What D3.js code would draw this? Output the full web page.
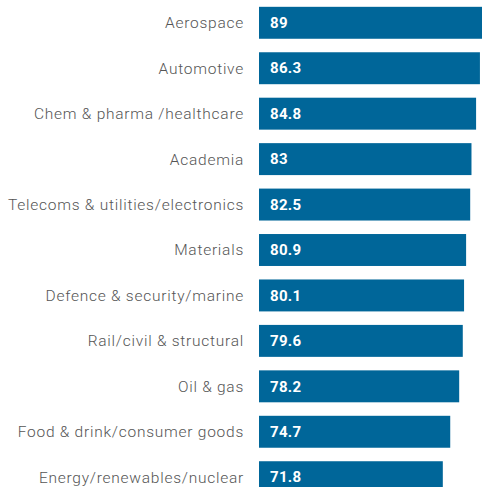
<!DOCTYPE html>
<html>
<head>
<meta charset="utf-8">
<script src="https://cdn.jsdelivr.net/npm/d3@7"></script>
<style>
  html, body { margin:0; padding:0; background:#fff; overflow:hidden; }
  svg { display:block; }
  .lbl { font-family:"Roboto", sans-serif; font-weight:300; font-size:15.5px; letter-spacing:0.75px; fill:#555; }
  .val { font-family:"Roboto", sans-serif; font-weight:700; font-size:15px; letter-spacing:0.3px; fill:#fff; }
</style>
</head>
<body>
<div id="chart"></div>
<script>
const sectors = ["Aerospace","Automotive","Chem & pharma /healthcare","Academia","Telecoms & utilities/electronics","Materials","Defence & security/marine","Rail/civil & structural","Oil & gas","Food & drink/consumer goods","Energy/renewables/nuclear"];
const scores = [89, 86.3, 84.8, 83, 82.5, 80.9, 80.1, 79.6, 78.2, 74.7, 71.8];

const W = 482, H = 487, x0 = 259;
const data = sectors.map((s,i)=>({sector:s, score:scores[i]}));

const svg = d3.select("#chart").append("svg").attr("width",W).attr("height",H);

const x = d3.scaleLinear().domain([0,100]).range([x0, x0+256]);
const y = d3.scaleBand().domain(sectors).range([0,500]).paddingInner(0.297).paddingOuter(0.15);

svg.selectAll("rect").data(data).join("rect")
  .attr("x",x(0)).attr("y",d=>y(d.sector))
  .attr("width",d=>x(d.score)-x(0)).attr("height",y.bandwidth())
  .attr("fill","#006699");

svg.selectAll("text.lbl").data(data).join("text").attr("class","lbl")
  .attr("x",x0-15).attr("y",d=>y(d.sector)+y.bandwidth()/2).attr("dy","0.35em")
  .attr("text-anchor","end").text(d=>d.sector);

svg.selectAll("text.val").data(data).join("text").attr("class","val")
  .attr("x",x0+11).attr("y",d=>y(d.sector)+y.bandwidth()/2).attr("dy","0.35em")
  .text(d=>d.score);
</script>
</body>
</html>
